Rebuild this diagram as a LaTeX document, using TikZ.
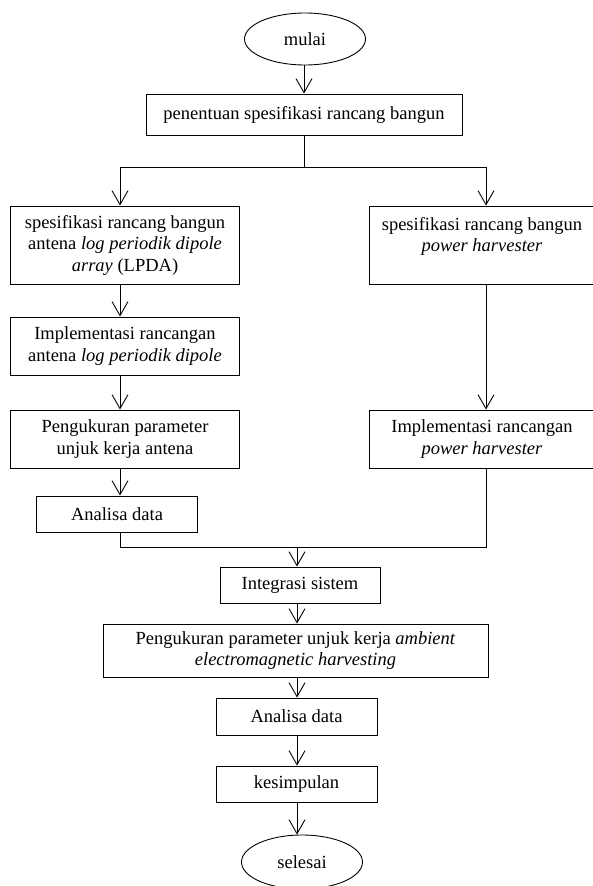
\documentclass[tikz,border=0pt]{standalone}
\usepackage{fontspec}
\setmainfont{Liberation Serif}
\usetikzlibrary{positioning,arrows.meta,shapes.geometric}
\tikzset{
  flowarrow/.style={-{Straight Barb[length=14pt,width=16pt]}, line width=0.9pt},
  flowline/.style={line width=0.9pt},
  procbox/.style={draw, line width=0.9pt, align=center, inner sep=2pt},
  termnode/.style={draw, ellipse, line width=0.9pt, minimum width=121pt, minimum height=52pt, inner sep=0pt}
}
\begin{document}
\begin{tikzpicture}[x=1pt, y=-1pt, every node/.style={font=\fontsize{18.5}{21.5}\selectfont}]
  \useasboundingbox (0,0) rectangle (592,886);
  % columns of the connectors
  \coordinate (colL) at (120,0);
  \coordinate (colR) at (486,0);
  \coordinate (colM) at (297,0);
  \node[termnode] (mulai) at (305,39) {mulai};
  \node[procbox, minimum width=316pt, minimum height=41pt] (penentuan) at (304,114.5) {penentuan spesifikasi rancang bangun};
  \coordinate (split) at (304,167);
  \node[procbox, minimum width=229pt, minimum height=78pt] (specL) at (125,245) {spesifikasi rancang bangun\\ antena \textit{log periodik dipole}\\ \textit{array} (LPDA)};
  \node[procbox, minimum width=226pt, minimum height=78pt] (specR) at (482,245) {spesifikasi rancang bangun\\ \textit{power harvester}\\ ~};
  \node[procbox, minimum width=229pt, minimum height=58pt] (implL) at (125,346) {Implementasi rancangan\\ antena \textit{log periodik dipole}};
  \node[procbox, minimum width=229pt, minimum height=58pt] (ukurL) at (125,439) {Pengukuran parameter\\ unjuk kerja antena};
  \node[procbox, minimum width=161pt, minimum height=36pt] (analisaL) at (117,514) {Analisa data};
  \node[procbox, minimum width=226pt, minimum height=58pt] (implR) at (482,439) {Implementasi rancangan\\ \textit{power harvester}};
  \coordinate (merge) at (297,547);
  \node[procbox, minimum width=160pt, minimum height=36pt] (integrasi) at (300,585) {Integrasi sistem};
  \node[procbox, minimum width=385pt, minimum height=53pt] (ukurA) at (295.5,650.5) {Pengukuran parameter unjuk kerja \textit{ambient}\\ \textit{electromagnetic harvesting}};
  \node[procbox, minimum width=161pt, minimum height=37pt] (analisa) at (296.5,716.5) {Analisa data};
  \node[procbox, minimum width=161pt, minimum height=36pt] (kesimpulan) at (296.5,784) {kesimpulan};
  \node[termnode, minimum height=54pt] (selesai) at (302,862) {selesai};
  \draw[flowarrow] (mulai.south -| penentuan) -- (penentuan.north);
  \draw[flowline] (penentuan.south) -- (split);
  \draw[flowarrow] (split) -| (specL.north -| colL);
  \draw[flowarrow] (split) -| (specR.north -| colR);
  \draw[flowarrow] (specL.south -| colL) -- (implL.north -| colL);
  \draw[flowarrow] (implL.south -| colL) -- (ukurL.north -| colL);
  \draw[flowarrow] (ukurL.south -| colL) -- (analisaL.north -| colL);
  \draw[flowarrow] (specR.south -| colR) -- (implR.north -| colR);
  \draw[flowline] (analisaL.south -| colL) |- (merge);
  \draw[flowline] (implR.south -| colR) |- (merge);
  \draw[flowarrow] (merge) -- (integrasi.north -| merge);
  \draw[flowarrow] (integrasi.south -| colM) -- (ukurA.north -| colM);
  \draw[flowarrow] (ukurA.south -| colM) -- (analisa.north -| colM);
  \draw[flowarrow] (analisa.south -| colM) -- (kesimpulan.north -| colM);
  \draw[flowarrow] (kesimpulan.south -| colM) -- (selesai.north -| colM);
\end{tikzpicture}
\end{document}
